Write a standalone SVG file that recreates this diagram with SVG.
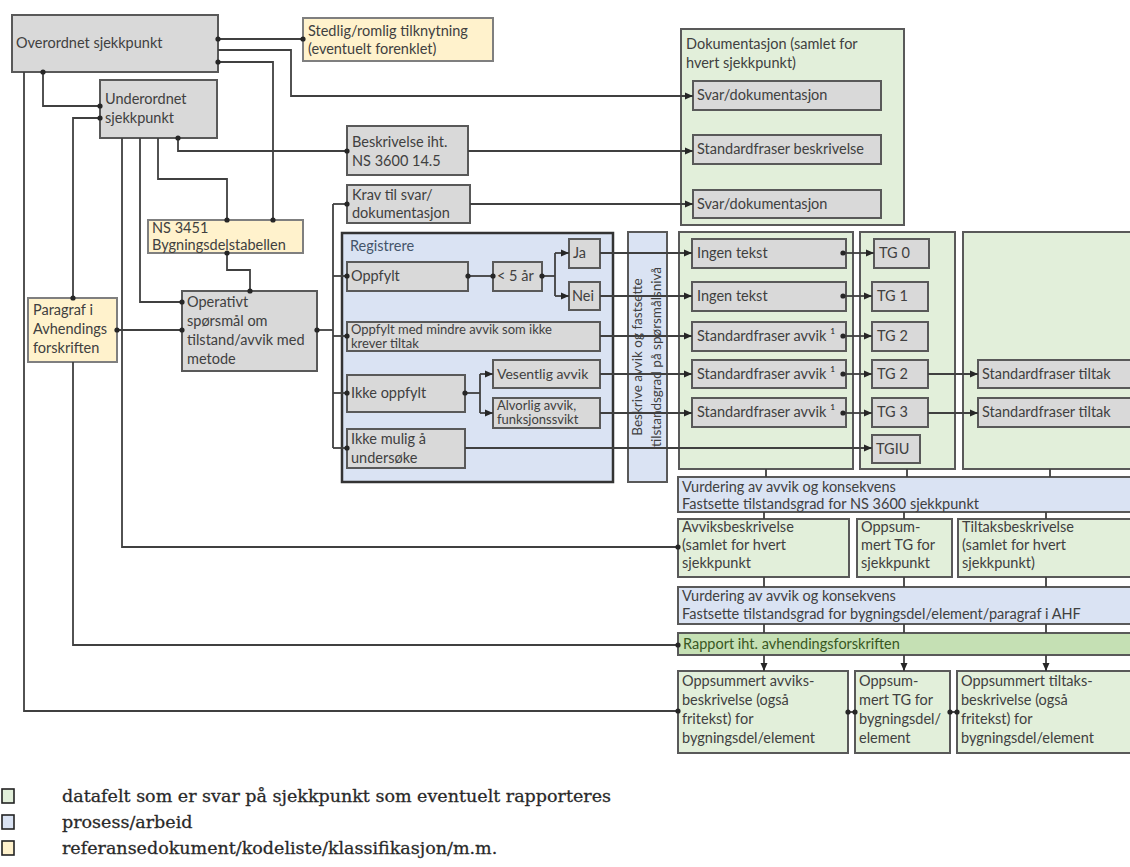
<svg xmlns="http://www.w3.org/2000/svg" width="1130" height="867" viewBox="0 0 1130 867">
<style>
.g{fill:#d9d9d9;stroke:#595959;stroke-width:2}
.y{fill:#fff2cc;stroke:#7f7f7f;stroke-width:2}
.gr{fill:#e2efda;stroke:#595959;stroke-width:2}
.b{fill:#dae3f3;stroke:#595959;stroke-width:2}
.rb{fill:#dae3f3;stroke:#333;stroke-width:2.5}
.rp{fill:#c5e0b4;stroke:#595959;stroke-width:2}
.c{fill:none;stroke:#404040;stroke-width:1.8}
.cd{marker-start:url(#dot);marker-end:url(#dot)}
.ca{marker-start:url(#dot);marker-end:url(#arr)}
.ce{marker-end:url(#dot)}
.cs{marker-start:url(#dot)}
.ae{marker-end:url(#arr)}
text{font-family:Lato,"Liberation Sans",sans-serif;font-size:14.5px;fill:#404040}
.sm{font-size:13px}
.md{font-size:14px}
.rot{font-size:13.5px}
.reg{fill:#44546a}
.rpt{fill:#385723}
.leg{font-family:"DejaVu Serif","Liberation Serif",serif;font-size:17.5px;fill:#262626;stroke:#333;stroke-width:0.3}
.lsq{stroke:#222;stroke-width:1.6}
</style>
<defs>
<marker id="dot" viewBox="0 0 6 6" refX="3" refY="3" markerWidth="6" markerHeight="6" markerUnits="userSpaceOnUse"><circle cx="3" cy="3" r="2.6" fill="#262626"/></marker>
<marker id="arr" viewBox="0 0 8 8" refX="8" refY="4" markerWidth="8" markerHeight="8" markerUnits="userSpaceOnUse" orient="auto"><path d="M0,0.5 L8,4 L0,7.5 z" fill="#262626"/></marker>
</defs>

<g id="overordnet"><rect class="g" x="12" y="15" width="206" height="57"/><text x="16" y="48">Overordnet sjekkpunkt</text></g>
<g id="underordnet"><rect class="g" x="100" y="80" width="117" height="58"/><text x="105" y="104">Underordnet</text><text x="105" y="123">sjekkpunkt</text></g>
<g id="stedlig"><rect class="y" x="303" y="18" width="190" height="43"/><text x="308" y="36">Stedlig/romlig tilknytning</text><text x="308" y="54">(eventuelt forenklet)</text></g>

<g id="dokumentasjon"><rect class="gr" x="681" y="29" width="223" height="196"/><text x="686" y="49">Dokumentasjon (samlet for</text><text x="686" y="68">hvert sjekkpunkt)</text></g>
<g id="svar1"><rect class="g" x="693" y="81" width="188" height="29"/><text x="697" y="100">Svar/dokumentasjon</text></g>
<g id="stdbeskr"><rect class="g" x="693" y="135" width="188" height="29"/><text x="697" y="154">Standardfraser beskrivelse</text></g>
<g id="svar2"><rect class="g" x="693" y="190" width="188" height="28"/><text x="697" y="209">Svar/dokumentasjon</text></g>

<g id="beskrivelse"><rect class="g" x="347" y="126" width="121" height="49"/><text x="352" y="147">Beskrivelse iht.</text><text x="352" y="166">NS 3600 14.5</text></g>
<g id="krav"><rect class="g" x="347" y="185" width="123" height="38"/><text x="352" y="200">Krav til svar/</text><text x="352" y="218">dokumentasjon</text></g>

<g id="ns3451"><rect class="y" x="148" y="220" width="155" height="33"/><text x="152" y="233">NS 3451</text><text x="152" y="250">Bygningsdelstabellen</text></g>
<g id="operativ"><rect class="g" x="182" y="291" width="135" height="80"/><text x="187" y="307">Operativt</text><text x="187" y="326">spørsmål om</text><text x="187" y="345">tilstand/avvik med</text><text x="187" y="364">metode</text></g>
<g id="paragraf"><rect class="y" x="28" y="298" width="89" height="64"/><text x="33" y="315">Paragraf  i</text><text x="33" y="334">Avhendings</text><text x="33" y="353">forskriften</text></g>

<g id="registrere"><rect class="rb" x="342" y="233" width="271" height="249"/><text class="reg" x="350" y="251">Registrere</text></g>
<g id="oppfylt"><rect class="g" x="347" y="262" width="121" height="29"/><text x="351" y="281">Oppfylt</text></g>
<g id="under5"><rect class="g" x="493" y="262" width="49" height="29"/><text x="497" y="281">&lt; 5 år</text></g>
<g id="ja"><rect class="g" x="569" y="239" width="31" height="29"/><text x="573" y="258">Ja</text></g>
<g id="nei"><rect class="g" x="569" y="282" width="31" height="28"/><text x="572" y="301">Nei</text></g>
<g id="oppfyltmindre"><rect class="g" x="347" y="322" width="253" height="29"/><text class="sm" x="351" y="334">Oppfylt med mindre avvik som ikke</text><text class="sm" x="351" y="348">krever tiltak</text></g>
<g id="vesentlig"><rect class="g" x="493" y="360" width="107" height="28"/><text class="md" x="497" y="379">Vesentlig avvik</text></g>
<g id="ikkeoppfylt"><rect class="g" x="347" y="375" width="118" height="37"/><text x="351" y="398">Ikke oppfylt</text></g>
<g id="alvorlig"><rect class="g" x="493" y="398" width="107" height="30"/><text class="sm" x="497" y="410">Alvorlig avvik,</text><text class="sm" x="497" y="424">funksjonssvikt</text></g>
<g id="ikkemulig"><rect class="g" x="347" y="429" width="118" height="39"/><text x="351" y="444">Ikke mulig å</text><text x="351" y="463">undersøke</text></g>

<g id="beskrive"><rect class="b" x="628" y="232" width="39" height="250"/><text class="rot" transform="translate(642,357) rotate(-90)" text-anchor="middle">Beskrive avvik og fastsette</text><text class="rot" transform="translate(661,357) rotate(-90)" text-anchor="middle">tilstandsgrad på spørsmålsnivå</text></g>

<g id="kol1"><rect class="gr" x="679" y="232" width="174" height="237"/></g>
<g id="kol2"><rect class="gr" x="860" y="232" width="95" height="237"/></g>
<g id="kol3"><rect class="gr" x="963" y="232" width="175" height="237"/></g>
<g id="ingen1"><rect class="g" x="692" y="239" width="154" height="29"/><text x="697" y="258">Ingen tekst</text></g>
<g id="ingen2"><rect class="g" x="692" y="282" width="154" height="29"/><text x="697" y="301">Ingen tekst</text></g>
<g id="stdavvik1"><rect class="g" x="692" y="322" width="154" height="29"/><text x="697" y="341">Standardfraser avvik ¹</text></g>
<g id="stdavvik2"><rect class="g" x="692" y="360" width="154" height="28"/><text x="697" y="379">Standardfraser avvik ¹</text></g>
<g id="stdavvik3"><rect class="g" x="692" y="398" width="154" height="29"/><text x="697" y="417">Standardfraser avvik ¹</text></g>
<g id="tg0"><rect class="g" x="874" y="239" width="55" height="29"/><text x="879" y="258">TG 0</text></g>
<g id="tg1"><rect class="g" x="872" y="282" width="56" height="29"/><text x="877" y="301">TG 1</text></g>
<g id="tg2a"><rect class="g" x="872" y="322" width="56" height="29"/><text x="877" y="341">TG 2</text></g>
<g id="tg2b"><rect class="g" x="872" y="360" width="56" height="28"/><text x="877" y="379">TG 2</text></g>
<g id="tg3"><rect class="g" x="872" y="398" width="56" height="29"/><text x="877" y="417">TG 3</text></g>
<g id="tgiu"><rect class="g" x="872" y="435" width="48" height="28"/><text x="876" y="454">TGIU</text></g>
<g id="tiltak1"><rect class="g" x="978" y="360" width="160" height="28"/><text x="982" y="379">Standardfraser tiltak</text></g>
<g id="tiltak2"><rect class="g" x="978" y="398" width="160" height="29"/><text x="982" y="417">Standardfraser tiltak</text></g>

<g id="vurdering1"><rect class="b" x="678" y="477" width="460" height="35"/><text x="682" y="492">Vurdering av avvik og konsekvens</text><text x="682" y="509">Fastsette tilstandsgrad for NS 3600 sjekkpunkt</text></g>
<g id="avviksbeskr"><rect class="gr" x="678" y="519" width="171" height="58"/><text x="682" y="532">Avviksbeskrivelse</text><text x="682" y="550">(samlet for hvert</text><text x="682" y="568">sjekkpunkt</text></g>
<g id="oppsumtg1"><rect class="gr" x="857" y="519" width="95" height="58"/><text x="861" y="532">Oppsum-</text><text x="861" y="550">mert TG for</text><text x="861" y="568">sjekkpunkt</text></g>
<g id="tiltaksbeskr"><rect class="gr" x="958" y="519" width="180" height="58"/><text x="962" y="532">Tiltaksbeskrivelse</text><text x="962" y="550">(samlet for hvert</text><text x="962" y="568">sjekkpunkt)</text></g>
<g id="vurdering2"><rect class="b" x="678" y="587" width="460" height="37"/><text x="682" y="601">Vurdering av avvik og konsekvens</text><text x="682" y="619">Fastsette tilstandsgrad for bygningsdel/element/paragraf i AHF</text></g>
<g id="rapport"><rect class="rp" x="678" y="633" width="460" height="22"/><text class="rpt" x="683" y="649">Rapport iht. avhendingsforskriften</text></g>
<g id="oppsavvik"><rect class="gr" x="678" y="671" width="170" height="82"/><text x="682" y="686">Oppsummert avviks-</text><text x="682" y="705">beskrivelse (også</text><text x="682" y="724">fritekst) for</text><text x="682" y="743">bygningsdel/element</text></g>
<g id="oppstg"><rect class="gr" x="855" y="671" width="95" height="82"/><text x="859" y="686">Oppsum-</text><text x="859" y="705">mert TG for</text><text x="859" y="724">bygningsdel/</text><text x="859" y="743">element</text></g>
<g id="oppstiltak"><rect class="gr" x="957" y="671" width="181" height="82"/><text x="961" y="686">Oppsummert tiltaks-</text><text x="961" y="705">beskrivelse (også</text><text x="961" y="724">fritekst) for</text><text x="961" y="743">bygningsdel/element</text></g>

<g id="connectors">
<path class="c cd" d="M218,39 H303"/>
<path class="c ae" d="M218,50 H291 V96 H693"/>
<path class="c cd" d="M218,62 H273 V220"/>
<path class="c cd" d="M43,72 V106 H100"/>
<path class="c ce" d="M24,72 V711 H678"/>
<path class="c cd" d="M100,118 H73 V298"/>
<path class="c ce" d="M73,362 V645 H678"/>
<path class="c ce" d="M122,138 V547 H678"/>
<path class="c ce" d="M140,138 V302 H182"/>
<path class="c ce" d="M158,138 V179 H227 V220"/>
<path class="c cd" d="M178,138 V151 H347"/>
<path class="c ae" d="M468,151 H693"/>
<path class="c cd" d="M117,330 H182"/>
<path class="c cd" d="M227,253 V270 H250 V291"/>
<path class="c cs" d="M317,330 H333"/>
<path class="c" d="M333,204 V448"/>
<path class="c ce" d="M333,204 H347"/>
<path class="c ce" d="M333,276 H347"/>
<path class="c ce" d="M333,336 H347"/>
<path class="c ce" d="M333,393 H347"/>
<path class="c ce" d="M333,448 H347"/>
<path class="c ae" d="M470,204 H693"/>
<path class="c cd" d="M468,276 H493"/>
<path class="c cs" d="M542,276 H555"/>
<path class="c" d="M555,253 V296"/>
<path class="c ae" d="M555,253 H569"/>
<path class="c ae" d="M555,296 H569"/>
<path class="c ae" d="M600,253 H692"/>
<path class="c ae" d="M600,296 H692"/>
<path class="c ae" d="M600,336 H692"/>
<path class="c cs" d="M465,393 H480"/>
<path class="c" d="M480,374 V413"/>
<path class="c ae" d="M480,374 H493"/>
<path class="c ae" d="M480,413 H493"/>
<path class="c ae" d="M600,374 H692"/>
<path class="c ae" d="M600,413 H692"/>
<path class="c ae" d="M465,448 H872"/>
<path class="c ca" d="M843,253 H874"/>
<path class="c ca" d="M843,296 H872"/>
<path class="c ca" d="M843,336 H872"/>
<path class="c ca" d="M843,374 H872"/>
<path class="c ca" d="M843,413 H872"/>
<path class="c ae" d="M928,374 H978"/>
<path class="c ae" d="M928,413 H978"/>
<path class="c" d="M766,469 V477 M907,469 V477 M1050,469 V477"/>
<path class="c" d="M764,512 V519 M904,512 V519 M1046,512 V519"/>
<path class="c" d="M764,577 V587 M904,577 V587 M1046,577 V587"/>
<path class="c" d="M764,624 V633 M904,624 V633 M1046,624 V633"/>
<path class="c ae" d="M764,655 V671"/>
<path class="c ae" d="M904,655 V671"/>
<path class="c ae" d="M1046,655 V671"/>
<path class="c cd" d="M848,712 H855"/>
<path class="c cd" d="M950,712 H957"/>
</g>

<g id="legend">
<rect class="lsq" x="2" y="789" width="12" height="14" fill="#e2efda"/>
<rect class="lsq" x="2" y="815" width="12" height="14" fill="#dae3f3"/>
<rect class="lsq" x="2" y="841" width="12" height="14" fill="#fff2cc"/>
<text class="leg" x="62" y="802">datafelt som er svar på sjekkpunkt som eventuelt rapporteres</text>
<text class="leg" x="62" y="828">prosess/arbeid</text>
<text class="leg" x="62" y="854">referansedokument/kodeliste/klassifikasjon/m.m.</text>
</g>
</svg>
